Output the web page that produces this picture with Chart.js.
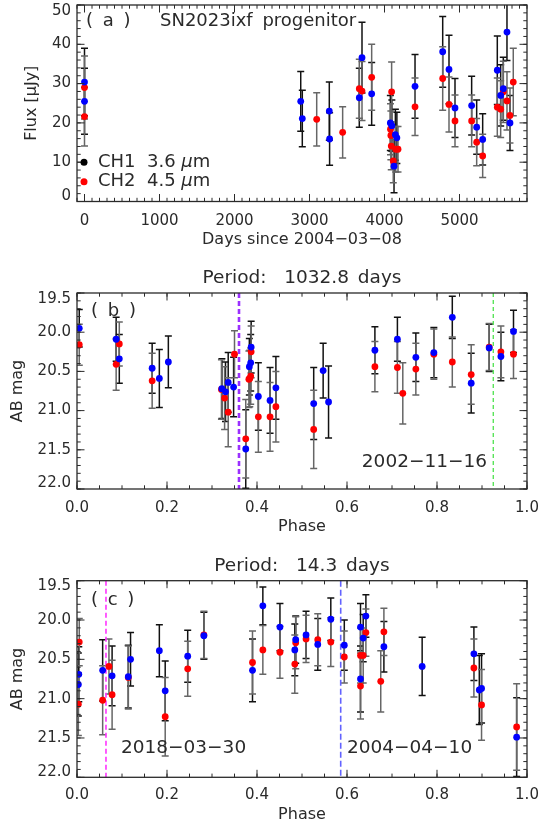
<!DOCTYPE html>
<html><head><meta charset="utf-8">
<script src="https://cdn.jsdelivr.net/npm/chart.js@4.4.1/dist/chart.umd.min.js"></script>
<style>
html,body{margin:0;padding:0;background:#fff;}
#wrap{position:relative;width:540px;height:826px;background:#fff;}
canvas{position:absolute;left:0;}
</style></head><body>
<div id="wrap">
<canvas id="ca" width="540" height="250" style="top:0;width:540px;height:250px"></canvas>
<canvas id="cb" width="540" height="290" style="top:250px;width:540px;height:290px"></canvas>
<canvas id="cc" width="540" height="286" style="top:540px;width:540px;height:286px"></canvas>
</div>
<script>
// ================= Panel (a): flux vs days since 2004-03-08 =================
const aCH1Days = [0, 0, 2883, 2904, 3264, 3268, 3664, 3700, 3829, 4078, 4098, 4127, 4145, 4165, 4407, 4776, 4860, 4940, 5162, 5229, 5309, 5504, 5549, 5584, 5633, 5673];
const aCH1Flux = [30.4, 25.5, 25.5, 21.1, 23.0, 15.9, 26.4, 36.6, 27.4, 20.0, 19.3, 9.0, 17.0, 16.2, 29.3, 38.1, 33.6, 23.8, 24.4, 18.9, 15.8, 33.4, 27.0, 28.7, 43.1, 20.0];
const aCH1Err  = [8.6, 8.4, 7.6, 7.2, 7.4, 6.7, 7.5, 9.0, 8.0, 7.0, 6.5, 6.8, 6.5, 6.5, 8.1, 9.0, 8.7, 7.5, 7.5, 6.9, 6.5, 8.7, 7.8, 8.0, 7.2, 7.0];
const aCH2Days = [0, 0, 3096, 3442, 3664, 3700, 3829, 4095, 4080, 4085, 4090, 4117, 4150, 4180, 4407, 4776, 4860, 4940, 5162, 5229, 5309, 5504, 5549, 5584, 5633, 5673, 5717];
const aCH2Flux = [29.0, 21.6, 20.9, 17.6, 28.7, 28.1, 31.6, 27.9, 18.4, 16.8, 14.1, 10.3, 13.3, 13.3, 24.1, 31.3, 24.7, 20.5, 20.5, 15.1, 11.6, 24.0, 23.5, 27.9, 25.6, 21.9, 30.4];
const aCH2Err  = [8.0, 7.5, 6.8, 6.5, 7.5, 7.5, 8.4, 7.6, 6.5, 6.2, 6.0, 5.5, 5.8, 5.8, 7.3, 8.1, 7.0, 6.6, 6.6, 6.0, 5.5, 7.4, 7.2, 7.8, 7.4, 7.0, 8.6];
const aDayTicks  = [0, 1000, 2000, 3000, 4000, 5000];
const aFluxTicks = [0, 10, 20, 30, 40, 50];

// ================= Panel (b): phase-folded, P = 1032.8 d =================
const bCH1Phase = [0.005, 0.087, 0.094, 0.167, 0.183, 0.203, 0.322, 0.330, 0.336, 0.348, 0.375, 0.383, 0.386, 0.387, 0.403, 0.429, 0.442, 0.526, 0.547, 0.559, 0.662, 0.712, 0.753, 0.793, 0.834, 0.876, 0.916, 0.942, 0.970];
const bCH1Mag   = [19.95, 20.09, 20.34, 20.46, 20.59, 20.38, 20.72, 20.76, 20.64, 20.70, 21.49, 20.44, 20.39, 20.19, 20.82, 20.87, 20.71, 20.91, 20.49, 20.89, 20.23, 20.09, 20.32, 20.26, 19.81, 20.65, 20.20, 20.31, 19.99];
const bCH1Err   = [0.24, 0.28, 0.31, 0.32, 0.37, 0.33, 0.38, 0.38, 0.38, 0.38, 0.50, 0.36, 0.36, 0.33, 0.43, 0.42, 0.40, 0.46, 0.35, 0.46, 0.30, 0.28, 0.31, 0.32, 0.27, 0.38, 0.30, 0.31, 0.27];
const bCH2Phase = [0.005, 0.087, 0.094, 0.167, 0.321, 0.328, 0.336, 0.350, 0.375, 0.382, 0.384, 0.386, 0.387, 0.403, 0.429, 0.442, 0.526, 0.662, 0.712, 0.724, 0.753, 0.793, 0.834, 0.876, 0.916, 0.942, 0.970];
const bCH2Mag   = [20.16, 20.41, 20.15, 20.62, 20.73, 20.84, 21.02, 20.28, 21.36, 20.60, 20.59, 20.56, 20.25, 21.08, 21.08, 20.95, 21.24, 20.44, 20.45, 20.78, 20.47, 20.28, 20.38, 20.54, 20.19, 20.25, 20.28];
const bCH2Err   = [0.26, 0.33, 0.28, 0.35, 0.38, 0.40, 0.44, 0.30, 0.50, 0.36, 0.36, 0.36, 0.33, 0.45, 0.44, 0.45, 0.50, 0.32, 0.33, 0.39, 0.33, 0.32, 0.32, 0.38, 0.30, 0.33, 0.31];
const bMarkerPhase = [0.36, 0.925];

// ================= Panel (c): phase-folded, P = 14.3 d =================
const cCH1Phase = [0.004, 0.003, 0.057, 0.078, 0.114, 0.119, 0.183, 0.196, 0.246, 0.282, 0.390, 0.413, 0.451, 0.484, 0.486, 0.509, 0.535, 0.564, 0.594, 0.630, 0.630, 0.636, 0.642, 0.682, 0.767, 0.882, 0.894, 0.899, 0.977];
const cCH1Mag   = [20.69, 20.82, 20.64, 20.71, 20.72, 20.50, 20.39, 20.90, 20.46, 20.20, 20.64, 19.82, 20.09, 20.38, 20.25, 20.19, 20.31, 19.99, 20.32, 20.09, 20.75, 20.23, 19.95, 20.34, 20.59, 20.43, 20.89, 20.87, 21.49];
const cCH1Err   = [0.35, 0.40, 0.39, 0.38, 0.40, 0.34, 0.33, 0.38, 0.33, 0.30, 0.40, 0.24, 0.30, 0.33, 0.30, 0.30, 0.33, 0.27, 0.32, 0.30, 0.42, 0.30, 0.27, 0.32, 0.37, 0.34, 0.44, 0.44, 0.50];
const cCH2Phase = [0.005, 0.003, 0.057, 0.071, 0.078, 0.114, 0.196, 0.246, 0.282, 0.390, 0.413, 0.451, 0.484, 0.486, 0.509, 0.535, 0.564, 0.594, 0.630, 0.630, 0.636, 0.642, 0.675, 0.682, 0.882, 0.899, 0.977];
const cCH2Mag   = [20.28, 21.07, 21.02, 20.59, 20.95, 20.73, 21.23, 20.62, 20.19, 20.54, 20.38, 20.41, 20.56, 20.29, 20.24, 20.25, 20.28, 20.47, 20.45, 20.84, 20.45, 20.16, 20.78, 20.15, 20.61, 21.08, 21.36];
const cCH2Err   = [0.30, 0.40, 0.44, 0.35, 0.44, 0.40, 0.50, 0.35, 0.30, 0.40, 0.31, 0.33, 0.37, 0.33, 0.30, 0.33, 0.31, 0.33, 0.35, 0.42, 0.35, 0.30, 0.39, 0.30, 0.37, 0.45, 0.55];
const cMarkerPhase = [0.0644, 0.586];

const phaseTicks = [0.0, 0.2, 0.4, 0.6, 0.8, 1.0];
const magTicks   = [19.5, 20.0, 20.5, 21.0, 21.5, 22.0];

// ================= drawing helpers =================
const INK = '#2a2a2a';
const FAM = "'DejaVu Sans', sans-serif";
Chart.defaults.font.family = FAM;
Chart.defaults.color = INK;

const pts = (xs, ys) => xs.map((x, i) => ({x: x, y: ys[i]}));

const errorBars = {
  id: 'errorBars',
  beforeDatasetsDraw(chart) {
    const {ctx, chartArea: ca, scales: {x, y}} = chart;
    ctx.save();
    ctx.beginPath(); ctx.rect(ca.left, ca.top, ca.right - ca.left, ca.bottom - ca.top); ctx.clip();
    chart.data.datasets.forEach((ds) => {
      if (!ds.errors) return;
      ctx.strokeStyle = ds.errColor; ctx.lineWidth = 1.5;
      ds.data.forEach((p, j) => {
        const e = ds.errors[j];
        const px = x.getPixelForValue(p.x);
        const p1 = y.getPixelForValue(p.y - e), p2 = y.getPixelForValue(p.y + e);
        ctx.beginPath();
        ctx.moveTo(px, p1); ctx.lineTo(px, p2);
        ctx.moveTo(px - 3.5, p1); ctx.lineTo(px + 3.5, p1);
        ctx.moveTo(px - 3.5, p2); ctx.lineTo(px + 3.5, p2);
        ctx.stroke();
      });
    });
    ctx.restore();
  }
};

const vLines = {
  id: 'vLines',
  beforeDatasetsDraw(chart, args, opts) {
    if (!opts.lines) return;
    const {ctx, chartArea: ca, scales: {x}} = chart;
    ctx.save();
    opts.lines.forEach(l => {
      const px = x.getPixelForValue(l.value);
      ctx.strokeStyle = l.color; ctx.lineWidth = l.width; ctx.setLineDash(l.dash);
      ctx.beginPath(); ctx.moveTo(px, ca.top); ctx.lineTo(px, ca.bottom); ctx.stroke();
    });
    ctx.restore();
  }
};

const frameTicks = {
  id: 'frameTicks',
  afterDatasetsDraw(chart, args, opts) {
    const {ctx, chartArea: ca, scales: {x, y}} = chart;
    ctx.save();
    ctx.strokeStyle = INK; ctx.lineWidth = 1.3;
    ctx.strokeRect(ca.left, ca.top, ca.right - ca.left, ca.bottom - ca.top);
    ctx.lineWidth = 1;
    const maj = 7.5, mnr = 3.7;
    const drawX = (v, len) => {
      const px = x.getPixelForValue(v);
      if (px < ca.left - 0.5 || px > ca.right + 0.5) return;
      ctx.beginPath();
      ctx.moveTo(px, ca.bottom); ctx.lineTo(px, ca.bottom - len);
      ctx.moveTo(px, ca.top); ctx.lineTo(px, ca.top + len);
      ctx.stroke();
    };
    const drawY = (v, len) => {
      const py = y.getPixelForValue(v);
      if (py < ca.top - 0.5 || py > ca.bottom + 0.5) return;
      ctx.beginPath();
      ctx.moveTo(ca.left, py); ctx.lineTo(ca.left + len, py);
      ctx.moveTo(ca.right, py); ctx.lineTo(ca.right - len, py);
      ctx.stroke();
    };
    const minors = (scale, step) => {
      const out = [];
      const n0 = Math.ceil(scale.min / step - 1e-9), n1 = Math.floor(scale.max / step + 1e-9);
      for (let n = n0; n <= n1; n++) out.push(n * step);
      return out;
    };
    minors(x, opts.xMinor).forEach(v => drawX(v, mnr));
    minors(y, opts.yMinor).forEach(v => drawY(v, mnr));
    x.ticks.forEach(t => drawX(t.value, maj));
    y.ticks.forEach(t => drawY(t.value, maj));
    ctx.restore();
  }
};

const notes = {
  id: 'notes',
  afterDraw(chart, args, opts) {
    const ctx = chart.ctx;
    ctx.save();
    (opts.items || []).forEach(it => {
      if (it.dot) {
        ctx.fillStyle = it.color;
        ctx.beginPath(); ctx.arc(it.x, it.y, it.r, 0, Math.PI * 2); ctx.fill();
        return;
      }
      ctx.fillStyle = INK;
      ctx.textBaseline = 'middle';
      try { ctx.wordSpacing = (it.ws || 0) + 'px'; } catch (e) {}
      const parts = it.parts || [{t: it.text}];
      const fontOf = p => (p.italic ? 'italic ' : '') + it.size + 'px ' + FAM;
      let total = 0;
      parts.forEach(p => { ctx.font = fontOf(p); total += ctx.measureText(p.t).width; });
      let cx = it.align === 'center' ? it.x - total / 2 : (it.align === 'right' ? it.x - total : it.x);
      ctx.textAlign = 'left';
      parts.forEach(p => { ctx.font = fontOf(p); ctx.fillText(p.t, cx, it.y); cx += ctx.measureText(p.t).width; });
    });
    ctx.restore();
  }
};

function endLabel(v, topVal, botVal, txt) {
  if (Math.abs(v - topVal) < 1e-9) return ['', txt];
  if (Math.abs(v - botVal) < 1e-9) return [txt, ''];
  return txt;
}

function buildChart(id, spec) {
  const isEnd = v => Math.abs(v - spec.yTop) < 1e-9 || Math.abs(v - spec.yBot) < 1e-9;
  return new Chart(document.getElementById(id), {
    type: 'scatter',
    data: {datasets: [
      {label: 'CH1 3.6 μm', data: pts(spec.ch1x, spec.ch1y), errors: spec.ch1e, errColor: '#111111',
       backgroundColor: '#0000ff', borderWidth: 0, pointRadius: 3.4, pointHoverRadius: 3.4},
      {label: 'CH2 4.5 μm', data: pts(spec.ch2x, spec.ch2y), errors: spec.ch2e, errColor: '#666666',
       backgroundColor: '#ff0000', borderWidth: 0, pointRadius: 3.4, pointHoverRadius: 3.4}
    ]},
    options: {
      responsive: false, animation: false, devicePixelRatio: 1, events: [],
      layout: {padding: {left: 0, right: 13, top: spec.top, bottom: 0}},
      plugins: {
        legend: {display: false}, tooltip: {enabled: false},
        frameTicks: {xMinor: spec.xMinor, yMinor: spec.yMinor},
        vLines: {lines: spec.lines || []},
        notes: {items: spec.notes}
      },
      scales: {
        x: {
          type: 'linear', min: spec.xMin, max: spec.xMax,
          afterBuildTicks: s => { s.ticks = spec.xTicks.map(v => ({value: v})); },
          afterFit: s => { s.height = spec.xH; s.paddingLeft = 0; s.paddingRight = 0; },
          ticks: {padding: spec.xPad, font: {size: 15}, color: INK, maxRotation: 0, minRotation: 0, autoSkip: false,
                  callback: spec.xFmt},
          grid: {display: false, drawTicks: false}, border: {display: false},
          title: {display: true, text: spec.xTitle, font: {size: 16}, color: INK, padding: {top: 0, bottom: spec.xTitlePad}}
        },
        y: {
          type: 'linear', min: spec.yMin, max: spec.yMax, reverse: spec.reverse,
          afterBuildTicks: s => { s.ticks = spec.yTicks.map(v => ({value: v})); },
          afterFit: s => { s.width = 77; s.paddingTop = 0; s.paddingBottom = 0; },
          ticks: {padding: 6, color: INK, autoSkip: false,
                  font: ctx => ({size: 15, lineHeight: (ctx.tick && isEnd(ctx.tick.value)) ? 0.75 : 1.2}),
                  callback: v => endLabel(v, spec.yTop, spec.yBot, spec.yFmt(v))},
          grid: {display: false, drawTicks: false}, border: {display: false},
          title: {display: true, text: spec.yTitle, font: {size: 16}, color: INK, padding: {top: spec.yTitlePad, bottom: 0}}
        }
      }
    },
    plugins: [errorBars, vLines, frameTicks, notes]
  });
}

const f1 = v => Number(v).toFixed(1);

// Panel (a)
buildChart('ca', {
  ch1x: aCH1Days, ch1y: aCH1Flux, ch1e: aCH1Err,
  ch2x: aCH2Days, ch2y: aCH2Flux, ch2e: aCH2Err,
  top: 5, xH: 48.5, xPad: 11, xTitlePad: 0.4, yTitlePad: 22,
  xMin: -100, xMax: 5900, xTicks: aDayTicks, xMinor: 100, xFmt: v => String(v),
  yMin: 0, yMax: 50, yTicks: aFluxTicks, yMinor: 2, reverse: false, yTop: 50, yBot: 0, yFmt: v => String(v),
  xTitle: 'Days since 2004\u221203\u221208', yTitle: 'Flux [\u03bcJy]',
  notes: [
    {text: '( a )', x: 86, y: 21, size: 18, ws: 4},
    {text: 'SN2023ixf progenitor', x: 160, y: 21, size: 18, ws: 4},
    {dot: true, x: 84, y: 162.3, r: 3.5, color: '#000000'},
    {parts: [{t: 'CH1  3.6 '}, {t: '\u03bc', italic: true}, {t: 'm'}], x: 98, y: 162.3, size: 18},
    {dot: true, x: 84, y: 181.7, r: 3.5, color: '#ff0000'},
    {parts: [{t: 'CH2  4.5 '}, {t: '\u03bc', italic: true}, {t: 'm'}], x: 98, y: 181.7, size: 18}
  ]
});

// Panel (b)
buildChart('cb', {
  ch1x: bCH1Phase, ch1y: bCH1Mag, ch1e: bCH1Err,
  ch2x: bCH2Phase, ch2y: bCH2Mag, ch2e: bCH2Err,
  top: 43, xH: 51, xPad: 10, xTitlePad: 3.4, yTitlePad: 8.5,
  xMin: 0, xMax: 1, xTicks: phaseTicks, xMinor: 0.05, xFmt: f1,
  yMin: 19.5, yMax: 22.0, yTicks: magTicks, yMinor: 0.1, reverse: true, yTop: 19.5, yBot: 22.0, yFmt: f1,
  xTitle: 'Phase', yTitle: 'AB mag',
  lines: [
    {value: bMarkerPhase[0], color: '#9b30ff', width: 2.6, dash: [5, 3]},
    {value: bMarkerPhase[1], color: '#3fe03f', width: 1.2, dash: [4, 3]}
  ],
  notes: [
    {text: 'Period:  1032.8 days', x: 302, y: 28, size: 18.5, align: 'center', ws: 3},
    {text: '( b )', x: 91, y: 61.7, size: 18, ws: 4},
    {text: '2002\u221211\u221216', x: 487, y: 211.7, size: 18.5, align: 'right'}
  ]
});

// Panel (c)
buildChart('cc', {
  ch1x: cCH1Phase, ch1y: cCH1Mag, ch1e: cCH1Err,
  ch2x: cCH2Phase, ch2y: cCH2Mag, ch2e: cCH2Err,
  top: 40.7, xH: 48.7, xPad: 9, xTitlePad: 1.4, yTitlePad: 8.5,
  xMin: 0, xMax: 1, xTicks: phaseTicks, xMinor: 0.05, xFmt: f1,
  yMin: 19.5, yMax: 22.0, yTicks: magTicks, yMinor: 0.1, reverse: true, yTop: 19.5, yBot: 22.0, yFmt: f1,
  xTitle: 'Phase', yTitle: 'AB mag',
  lines: [
    {value: cMarkerPhase[0], color: '#ff33ff', width: 1.6, dash: [5, 3]},
    {value: cMarkerPhase[1], color: '#6262ff', width: 1.6, dash: [6, 3]}
  ],
  notes: [
    {text: 'Period:  14.3 days', x: 302, y: 26, size: 18.5, align: 'center', ws: 3},
    {text: '( c )', x: 91, y: 60, size: 18, ws: 4},
    {text: '2018\u221203\u221230', x: 121, y: 208.3, size: 18.5},
    {text: '2004\u221204\u221210', x: 347, y: 208.3, size: 18.5}
  ]
});
</script>
</body></html>
